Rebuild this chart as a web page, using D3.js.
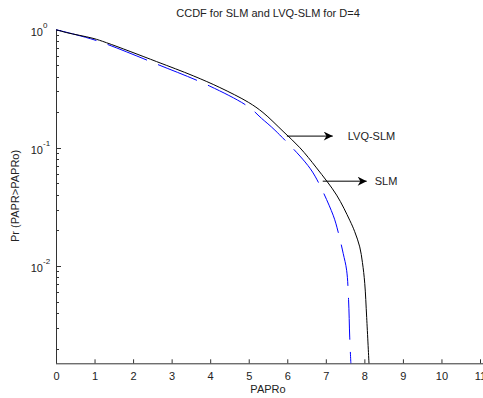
<!DOCTYPE html>
<html>
<head>
<meta charset="utf-8">
<script src="https://cdn.jsdelivr.net/npm/d3@7/dist/d3.min.js"></script>
<style>
  body { margin: 0; background: #fff; }
  svg text { font-family: "Liberation Sans", Arial, sans-serif; fill: #222; }
</style>
</head>
<body>
<script>
//curve values
var lvqX = [0, 0.28, 0.96, 1.31, 2.61, 3.56, 4.25, 4.99, 5.37, 5.89, 6.33, 6.76, 7.28, 7.62, 7.75, 7.88, 7.95, 8.01, 8.06, 8.12];
var lvqY = [1.0, 0.944, 0.845, 0.776, 0.537, 0.407, 0.324, 0.243, 0.199, 0.138, 0.1, 0.0676, 0.0398, 0.0244, 0.0195, 0.0145, 0.0107, 0.00713, 0.00367, 0.0015];
var slmX = [0, 0.5, 1.14, 2.61, 3.99, 4.99, 5.33, 5.68, 6.46, 6.72, 7.19, 7.32, 7.45, 7.54, 7.59, 7.62, 7.65];
var slmY = [1.0, 0.91, 0.791, 0.512, 0.333, 0.223, 0.178, 0.141, 0.076, 0.0576, 0.0269, 0.0194, 0.0128, 0.0092, 0.0052, 0.0025, 0.0015];
var xTicks = [0, 1, 2, 3, 4, 5, 6, 7, 8, 9, 10, 11];
var yDecades = [0, -1, -2];

window.onload = drawChart();

function drawChart(){
    var width = 483, height = 398;
    var left = 56, right = 480, top = 29.7, bottom = 363.3;

    var svg = d3.select("body").append("svg")
        .attr("width", width)
        .attr("height", height);

    var x = d3.scaleLinear().domain([0, 11]).range([left, right]);
    var y = d3.scaleLog().domain([0.0015, 1]).range([bottom, top]);

    //minor ticks for log axis
    var minor = [];
    yDecades.forEach(function(e){
        for (var k = 2; k <= 9; k++){
            var v = k * Math.pow(10, e - 1);
            if (v >= 0.0015) minor.push(v);
        }
    });

    var axisColor = "#333";

    //x axis with inward ticks
    var xAxis = svg.append("g")
        .attr("transform", "translate(0," + bottom + ")")
        .call(d3.axisBottom(x).tickValues(xTicks).tickSize(-4).tickPadding(9).tickFormat(d3.format("d")));
    xAxis.select(".domain").attr("stroke", axisColor).attr("d", "M" + left + ",0.5H" + width);
    xAxis.selectAll(".tick line").attr("stroke", axisColor);
    xAxis.selectAll(".tick text").attr("font-size", 11).attr("fill", "#222");

    //y axis
    var yg = svg.append("g").attr("transform", "translate(" + left + ",0)");
    yg.append("line")
        .attr("x1", 0.5).attr("x2", 0.5)
        .attr("y1", top).attr("y2", bottom)
        .attr("stroke", axisColor);
    yg.selectAll(".major")
        .data(yDecades).enter().append("line")
        .attr("x1", 0).attr("x2", 5)
        .attr("y1", function(d){ return Math.round(y(Math.pow(10, d))) + 0.5; })
        .attr("y2", function(d){ return Math.round(y(Math.pow(10, d))) + 0.5; })
        .attr("stroke", axisColor);
    yg.selectAll(".minor")
        .data(minor).enter().append("line")
        .attr("x1", 0).attr("x2", 3)
        .attr("y1", function(d){ return Math.round(y(d)) + 0.5; })
        .attr("y2", function(d){ return Math.round(y(d)) + 0.5; })
        .attr("stroke", axisColor);
    yg.selectAll(".ylab")
        .data(yDecades).enter().append("text")
        .attr("x", -13)
        .attr("y", function(d){ return y(Math.pow(10, d)) + 6; })
        .attr("text-anchor", "end")
        .attr("font-size", 11)
        .text("10");
    yg.selectAll(".yexp")
        .data(yDecades).enter().append("text")
        .attr("x", -13)
        .attr("y", function(d){ return y(Math.pow(10, d)) - 2; })
        .attr("font-size", 8)
        .text(function(d){ return d; });

    //curves
    var line = d3.line()
        .x(function(d){ return x(d[0]); })
        .y(function(d){ return y(d[1]); })
        .curve(d3.curveCatmullRom.alpha(0.5));

    svg.append("path")
        .datum(slmX.map(function(v, i){ return [v, slmY[i]]; }))
        .attr("d", line)
        .attr("fill", "none")
        .attr("stroke", "#0000ff")
        .attr("stroke-width", 1)
        .attr("stroke-dasharray", "42,12");

    svg.append("path")
        .datum(lvqX.map(function(v, i){ return [v, lvqY[i]]; }))
        .attr("d", line)
        .attr("fill", "none")
        .attr("stroke", "#000")
        .attr("stroke-width", 1);

    //arrows with labels
    var defs = svg.append("defs");
    defs.append("marker")
        .attr("id", "arr")
        .attr("viewBox", "0 0 10 10")
        .attr("refX", 10).attr("refY", 5)
        .attr("markerWidth", 13).attr("markerHeight", 9)
        .attr("markerUnits", "userSpaceOnUse")
        .attr("orient", "auto")
        .append("path")
        .attr("d", "M0,0 L10,5 L0,10 L3,5 Z")
        .attr("fill", "#000");

    var notes = [
        {x0: 5.99, x1: 7.18, yv: 0.1257, dx: 15, label: "LVQ-SLM"},
        {x0: 6.92, x1: 8.06, yv: 0.0522, dx: 8, label: "SLM"}
    ];
    notes.forEach(function(n){
        svg.append("line")
            .attr("x1", x(n.x0)).attr("x2", x(n.x1))
            .attr("y1", y(n.yv)).attr("y2", y(n.yv))
            .attr("stroke", "#000")
            .attr("marker-end", "url(#arr)");
        svg.append("text")
            .attr("x", x(n.x1) + n.dx)
            .attr("y", y(n.yv) + 4)
            .attr("font-size", 11)
            .text(n.label);
    });

    //title and axis labels
    svg.append("text")
        .attr("x", 268).attr("y", 17)
        .attr("text-anchor", "middle")
        .attr("font-size", 11)
        .text("CCDF for SLM and LVQ-SLM for D=4");
    svg.append("text")
        .attr("x", 268).attr("y", 393)
        .attr("text-anchor", "middle")
        .attr("font-size", 11)
        .text("PAPRo");
    svg.append("text")
        .attr("transform", "translate(19," + 196 + ") rotate(-90)")
        .attr("text-anchor", "middle")
        .attr("font-size", 11)
        .text("Pr (PAPR>PAPRo)");
}
</script>
</body>
</html>
